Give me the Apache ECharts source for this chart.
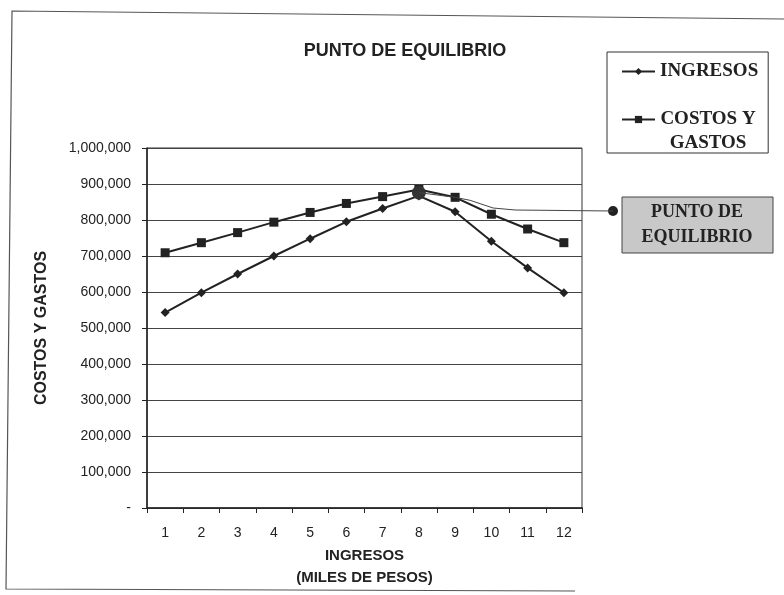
<!DOCTYPE html>
<html>
<head>
<meta charset="utf-8">
<script src="https://cdn.jsdelivr.net/npm/echarts@6/dist/echarts.min.js"></script>
<style>html,body{margin:0;padding:0;background:#fff;}#c{width:784px;height:595px;}</style>
</head>
<body>
<div id="c"></div>
<script>
const categories = ['1','2','3','4','5','6','7','8','9','10','11','12'];
const ingresos = [543000, 598000, 650000, 700000, 748000, 795000, 832000, 867000, 823000, 741000, 667000, 598000];
const costos = [709000, 737000, 765000, 794000, 821000, 846000, 865000, 885000, 863000, 816000, 775000, 737000];
const equilibrio = {cat: '8', value: 876000};
const yTicks = {min: 0, max: 1000000, interval: 100000};

const SANS = 'Liberation Sans, Arial, sans-serif';
const SERIF = 'Liberation Serif, Times New Roman, serif';
const INK = '#222';

const chart = echarts.init(document.getElementById('c'), null, {renderer: 'canvas'});
const option = {
  backgroundColor: '#ffffff',
  animation: false,
  title: {
    text: 'PUNTO DE EQUILIBRIO',
    left: 400, top: 37, textAlign: 'center',
    textStyle: {fontFamily: SANS, fontWeight: 'bold', fontSize: 18, color: INK}
  },
  legend: {
    orient: 'vertical', left: 607, top: 52,
    padding: [10, 10, 0, 14], itemGap: 5,
    itemWidth: 33, itemHeight: 9,
    borderColor: '#333', borderWidth: 1,
    data: ['INGRESOS', 'COSTOS Y GASTOS'],
    formatter: function (n) {
      return n === 'COSTOS Y GASTOS' ? '{e| }\n{c|COSTOS Y}\n{c|GASTOS}' : '{l|' + n + '}';
    },
    textStyle: {
      fontFamily: SERIF, fontWeight: 'bold', fontSize: 19, color: INK,
      rich: {
        e: {fontSize: 19, lineHeight: 24},
        c: {width: 96, align: 'center', fontFamily: SERIF, fontWeight: 'bold', fontSize: 19, lineHeight: 24, color: INK},
        l: {fontFamily: SERIF, fontWeight: 'bold', fontSize: 19, lineHeight: 24, color: INK}
      }
    }
  },
  grid: {left: 147, right: 202, top: 148, bottom: 87, show: true, borderColor: '#333', borderWidth: 1},
  xAxis: {
    type: 'category', data: categories, boundaryGap: true,
    name: 'INGRESOS\n(MILES DE PESOS)', nameLocation: 'middle', nameGap: 37,
    nameTextStyle: {fontFamily: SANS, fontWeight: 'bold', fontSize: 15, color: INK, lineHeight: 22},
    axisLine: {lineStyle: {color: INK, width: 1.5}},
    axisTick: {show: true, length: 5, lineStyle: {color: INK}},
    axisLabel: {fontFamily: SANS, fontSize: 14, color: INK, margin: 18},
    splitLine: {show: false}
  },
  yAxis: {
    type: 'value', min: yTicks.min, max: yTicks.max, interval: yTicks.interval,
    name: 'COSTOS Y GASTOS', nameLocation: 'middle', nameGap: 97, nameRotate: 90,
    nameTextStyle: {fontFamily: SANS, fontWeight: 'bold', fontSize: 16, color: INK},
    axisLine: {show: true, lineStyle: {color: INK, width: 1.5}},
    axisTick: {show: true, length: 5, lineStyle: {color: INK}},
    axisLabel: {
      fontFamily: SANS, fontSize: 14, color: INK, margin: 16,
      formatter: function (v) { return v === 0 ? '-' : v.toLocaleString('en-US'); }
    },
    splitLine: {show: true, lineStyle: {color: '#444', width: 1}}
  },
  series: [
    {
      name: 'INGRESOS', type: 'line', data: ingresos,
      symbol: 'diamond', symbolSize: 9,
      lineStyle: {color: INK, width: 2}, itemStyle: {color: INK}
    },
    {
      name: 'COSTOS Y GASTOS', type: 'line', data: costos,
      symbol: 'rect', symbolSize: 9,
      lineStyle: {color: INK, width: 2}, itemStyle: {color: INK},
      markPoint: {
        symbol: 'circle', symbolSize: 14,
        itemStyle: {color: '#333'}, label: {show: false},
        data: [{coord: [equilibrio.cat, equilibrio.value]}]
      }
    }
  ]
};
chart.setOption(option);

// callout annotation anchored to the break-even point and the next cost point
const bp = chart.convertToPixel({gridIndex: 0}, [equilibrio.cat, equilibrio.value]);
const p9 = chart.convertToPixel({gridIndex: 0}, [categories[8], costos[8]]);
const dotX = 613, dotY = 211;
chart.setOption({
  graphic: [
    {
      type: 'polyline', silent: true,
      shape: {points: [[784, 19], [12, 11], [6, 589], [575, 591]]},
      style: {stroke: '#555', lineWidth: 1.2, fill: null}
    },
    {
      type: 'polyline', silent: true, z: 5,
      shape: {points: [bp, p9, [p9[0] + 15, p9[1] + 3], [p9[0] + 38, dotY - 3], [p9[0] + 60, dotY - 1], [dotX, dotY]]},
      style: {stroke: '#444', lineWidth: 1, fill: null}
    },
    {type: 'circle', silent: true, shape: {cx: dotX, cy: dotY, r: 5}, style: {fill: '#222'}},
    {
      type: 'rect', silent: true,
      shape: {x: 622, y: 197, width: 151, height: 56},
      style: {fill: '#c8c8c8', stroke: '#444', lineWidth: 1}
    },
    {
      type: 'text', silent: true, x: 697, y: 225,
      style: {
        text: 'PUNTO DE\nEQUILIBRIO', fill: INK,
        font: 'bold 18px ' + SERIF, align: 'center', verticalAlign: 'middle', lineHeight: 25
      }
    }
  ]
});
</script>
</body>
</html>
